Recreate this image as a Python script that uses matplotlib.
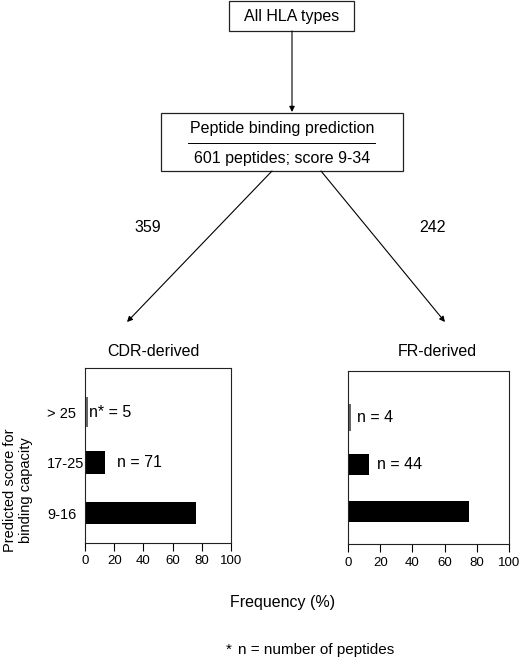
import matplotlib
matplotlib.use("Agg")
import matplotlib.pyplot as plt
from matplotlib.patches import Rectangle

plt.rcParams['font.family'] = ['Liberation Sans', 'DejaVu Sans']

# ---- data ----
categories = ['9-16', '17-25', '> 25']
cdr_freq = [76, 14, 2]
fr_freq = [75, 13, 2]
cdr_labels = ['', 'n = 71', 'n* = 5']
fr_labels = ['', 'n = 44', 'n = 4']
cdr_label_x = [0, 22, 2.7]
fr_label_x = [0, 18, 5.4]
xticks = [0, 20, 40, 60, 80, 100]
total_peptides = 601
cdr_total = 359
fr_total = 242

W, H = 520, 668
fig = plt.figure(figsize=(W / 100, H / 100), dpi=100)

# ---- flowchart overlay (pixel coordinates) ----
ov = fig.add_axes([0, 0, 1, 1])
ov.set_xlim(0, W)
ov.set_ylim(H, 0)
ov.axis('off')

lw = 0.9
ov.add_patch(Rectangle((229, 1), 125, 30, fill=False, lw=lw, ec='#222222'))
ov.text(291.5, 16.5, 'All HLA types', ha='center', va='center', fontsize=11.5)

arrow = dict(arrowstyle='-|>', mutation_scale=8, lw=0.8, color='black',
             shrinkA=0, shrinkB=0)
ov.annotate('', xy=(292, 112), xytext=(292, 31), arrowprops=arrow)

ov.add_patch(Rectangle((161, 113), 242, 58, fill=False, lw=lw, ec='#222222'))
ov.text(282, 128.5, 'Peptide binding prediction', ha='center', va='center', fontsize=11.5)
ov.plot([188, 375], [143, 143], color='black', lw=0.7)
ov.text(282, 158.5, f'{total_peptides} peptides; score 9-34', ha='center', va='center', fontsize=11.5)

ov.annotate('', xy=(127, 322), xytext=(272, 171), arrowprops=arrow)
ov.annotate('', xy=(445, 322), xytext=(321, 171), arrowprops=arrow)
ov.text(148, 227, str(cdr_total), ha='center', va='center', fontsize=11.5)
ov.text(432, 227, str(fr_total), ha='center', va='center', fontsize=11.5)

ov.text(153, 352, 'CDR-derived', ha='center', va='center', fontsize=11.5)
ov.text(437, 352, 'FR-derived', ha='center', va='center', fontsize=11.5)

ov.text(18, 490, 'Predicted score for\nbinding capacity', rotation=90,
        ha='center', va='center', multialignment='center', fontsize=10.5,
        linespacing=1.1)
ov.text(283, 602, 'Frequency (%)', ha='center', va='center', fontsize=11.5)
ov.text(229, 650, '*', ha='center', va='center', fontsize=11)
ov.text(238, 650, 'n = number of peptides', ha='left', va='center', fontsize=11)


def add_panel(x0, x1, ytop, ybot, freq, labels, label_x, ylim, show_y):
    ax = fig.add_axes([x0 / W, (H - ybot) / H, (x1 - x0) / W, (ybot - ytop) / H])
    pos = list(range(len(categories)))
    heights = [0.44, 0.44, 0.58]
    colors = ['black', 'black', '#666666']
    ax.barh(pos, freq, height=heights, color=colors, edgecolor='none')
    for p, lab, lx in zip(pos, labels, label_x):
        if lab:
            ax.text(lx, p, lab, ha='left', va='center', fontsize=11.5)
    ax.set_xlim(0, 100)
    ax.set_ylim(*ylim)
    ax.set_xticks(xticks)
    ax.tick_params(axis='x', direction='out', length=6, width=0.8,
                   labelsize=9.5, pad=3)
    ax.set_yticks(pos)
    if show_y:
        ax.set_yticklabels(categories, fontsize=10.5, ha='left')
        ax.tick_params(axis='y', length=0, pad=27.4)
    else:
        ax.set_yticklabels([])
        ax.tick_params(axis='y', length=0)
    for s in ax.spines.values():
        s.set_linewidth(0.8)
        s.set_color('#222222')
    return ax


add_panel(85, 231, 368, 543, cdr_freq, cdr_labels, cdr_label_x, (-0.59, 2.87), True)
add_panel(348, 509, 371, 544, fr_freq, fr_labels, fr_label_x, (-0.69, 2.98), False)

fig.savefig('out.png', dpi=100)
